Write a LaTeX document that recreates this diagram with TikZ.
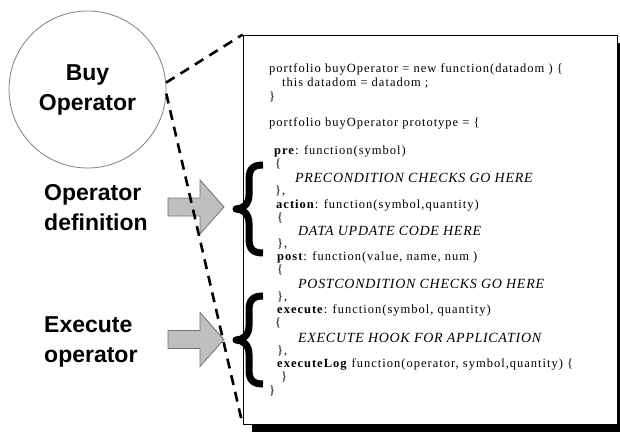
\documentclass[tikz,border=0pt]{standalone}
\usepackage{fontspec}
\usepackage{tikz}
\usetikzlibrary{shadows}
\newfontfamily\sidefont{Liberation Sans}
\newfontfamily\codefont[LetterSpace=8]{Liberation Serif}
\newfontfamily\hookfont[LetterSpace=5]{Liberation Serif}

\tikzset{
  sidetext/.style={font=\sidefont\bfseries\fontsize{23}{30}\selectfont, inner sep=0pt},
  codeline/.style={anchor=base west, inner sep=0pt, font=\codefont\fontsize{12.5}{14}\selectfont},
  hookline/.style={anchor=base west, inner sep=0pt, font=\hookfont\itshape\fontsize{14}{16}\selectfont},
  zoomline/.style={dashed, line width=2.6pt, dash pattern=on 10pt off 7pt},
  codebrace/.pic={
    \draw[line width=7pt, line join=round]
      (28,-44) .. controls (18,-44) and (14,-40) .. (14,-30) -- (14,-14)
      .. controls (14,-5) and (8,0) .. (1,0)
      .. controls (8,0) and (14,5) .. (14,14) -- (14,30)
      .. controls (14,40) and (18,44) .. (28,44);
  },
  blockarrow/.pic={
    \draw[fill=gray!50, draw=gray!90!black, line width=0.8pt]
      (0,-9) -- (32,-9) -- (32,-27) -- (56,0) -- (32,27) -- (32,9) -- (0,9) -- cycle;
  }
}

\begin{document}
\begin{tikzpicture}[x=1pt,y=-1pt]
\useasboundingbox (0,0) rectangle (620,431);

\node[circle, draw=gray, line width=0.8pt, minimum size=157pt] (buy) at (87.5,89.5) {};
\node[sidetext, align=center] (buyt) at (87.5,90) {Buy\\Operator};

\node[rectangle, draw=black, fill=white, line width=0.8pt, minimum width=374pt, minimum height=389pt,
      drop shadow={shadow xshift=9pt, shadow yshift=-8pt, fill=black, opacity=1}] (code) at (430,229.5) {};

\node[codeline] (c1) at (269,72) {portfolio buyOperator = new function(datadom ) \{};
\node[codeline] (c2) at (282,86) {this datadom = datadom ;};
\node[codeline] (c3) at (269,100) {\}};
\node[codeline] (c4) at (269,126) {portfolio buyOperator prototype = \{};

\node[codeline] (pre) at (274,154) {\textbf{pre}: function(symbol)};
\node[codeline] (pre1) at (275,167) {\{};
\node[hookline] (pre2) at (295,182) {PRECONDITION CHECKS GO HERE};
\node[codeline] (pre3) at (275,194) {\},};
\node[codeline] (act) at (276,208) {\textbf{action}: function(symbol,quantity)};
\node[codeline] (act1) at (277,221) {\{};
\node[hookline] (act2) at (298,235) {DATA UPDATE CODE HERE};
\node[codeline] (act3) at (277,247) {\},};
\node[codeline] (post) at (277,260) {\textbf{post}: function(value, name, num )};
\node[codeline] (post1) at (277,273) {\{};
\node[hookline] (post2) at (298,288) {POSTCONDITION CHECKS GO HERE};
\node[codeline] (post3) at (277,300) {\},};
\node[codeline] (exe) at (277,313) {\textbf{execute}: function(symbol, quantity)};
\node[codeline] (exe1) at (275,326) {\{};
\node[hookline] (exe2) at (298,342) {EXECUTE HOOK FOR APPLICATION};
\node[codeline] (exe3) at (277,354) {\},};
\node[codeline] (log) at (277,367) {\textbf{executeLog} function(operator, symbol,quantity) \{};
\node[codeline] (log1) at (281,380) {\}};
\node[codeline] (c5) at (269,394) {\}};

\pic at (235,209) {codebrace};
\pic at (235,340) {codebrace};

\node[sidetext, align=left, anchor=west] (def) at (44,208) {Operator\\definition};
\node[sidetext, align=left, anchor=west] (run) at (44,342) {Execute\\operator};
\pic at (168,207) {blockarrow};
\pic at (168,339.5) {blockarrow};

\draw[zoomline] (buy.5) -- (code.north west);
\draw[zoomline] (buy.-3) -- (code.south west);
\end{tikzpicture}
\end{document}
